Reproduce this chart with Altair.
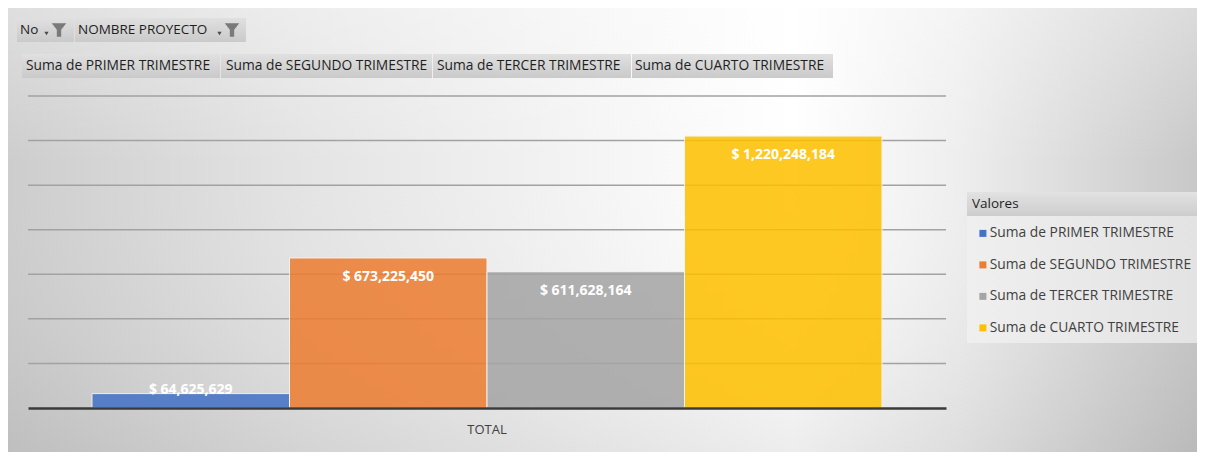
import altair as alt
import pandas as pd

# ---------------- data ----------------
categories = ["TOTAL"]
series = [
    "Suma de PRIMER TRIMESTRE",
    "Suma de SEGUNDO TRIMESTRE",
    "Suma de TERCER TRIMESTRE",
    "Suma de CUARTO TRIMESTRE",
]
values = [64625629, 673225450, 611628164, 1220248184]
colors = ["#4472C4", "#ED7D31", "#A5A5A5", "#FFC000"]
grid_values = [200000000, 400000000, 600000000, 800000000,
               1000000000, 1200000000, 1400000000]
filter_buttons = ["No", "NOMBRE PROYECTO"]
value_buttons = series
legend_title = "Valores"

df = pd.DataFrame({"cat": categories * len(series), "series": series, "value": values})
grid_df = pd.DataFrame({"g": grid_values})
one = pd.DataFrame({"k": [0]})

FONT = "Open Sans"
W, H = 918, 312
OX, OY = 28, 96  # page position of plot origin
RIGHT = 1197     # page right edge of the drawing

def px(x):
    return alt.value(x - OX)

def py(y):
    return alt.value(y - OY)

# ---------------- scales / encodings ----------------
x_enc = alt.X(
    "cat:N",
    scale=alt.Scale(paddingInner=0, paddingOuter=0.081),
    axis=alt.Axis(title=None, labelAngle=0, ticks=False, domainColor="#3a3a3a",
                  domainWidth=2.5, labelFont=FONT, labelFontSize=13,
                  labelColor="#404040", labelPadding=15, zindex=1),
)
xo_enc = alt.XOffset("series:N", sort=series,
                     scale=alt.Scale(domain=series, paddingInner=0, paddingOuter=0))
y_scale = alt.Scale(domain=[0, 1400000000], nice=False, zero=True)
y_enc = alt.Y("value:Q", scale=y_scale, axis=None)

# ---------------- background ----------------
bg_grad = alt.LinearGradient(
    gradient="linear", x1=0, y1=0, x2=1, y2=0,
    stops=[
        alt.GradientStop(color="#cdcdcd", offset=0),
        alt.GradientStop(color="#e4e4e4", offset=0.25),
        alt.GradientStop(color="#f5f5f5", offset=0.5),
        alt.GradientStop(color="#ffffff", offset=0.66),
        alt.GradientStop(color="#eeeeee", offset=0.8),
        alt.GradientStop(color="#c8c8c8", offset=1),
    ],
)
bg_overlay_grad = alt.LinearGradient(
    gradient="linear", x1=0, y1=0, x2=0, y2=1,
    stops=[
        alt.GradientStop(color="rgba(255,255,255,0.35)", offset=0),
        alt.GradientStop(color="rgba(255,255,255,0)", offset=0.35),
        alt.GradientStop(color="rgba(0,0,0,0.07)", offset=1),
    ],
)
bg = alt.Chart(one).mark_rect(fill=bg_grad).encode(
    x=px(8), x2=px(RIGHT), y=py(8), y2=py(452))
bg2 = alt.Chart(one).mark_rect(fill=bg_overlay_grad).encode(
    x=px(8), x2=px(RIGHT), y=py(8), y2=py(452))

# ---------------- grid ----------------
rules = alt.Chart(grid_df).mark_rule(color="#a2a2a2", strokeWidth=1.5).encode(
    y=alt.Y("g:Q", scale=y_scale, axis=None))

# ---------------- bars ----------------
bars = alt.Chart(df).mark_bar(opacity=0.86, stroke="#f4f4f4", strokeWidth=1).encode(
    x=x_enc, xOffset=xo_enc, y=y_enc,
    color=alt.Color(
        "series:N", sort=series,
        scale=alt.Scale(domain=series, range=colors),
        legend=alt.Legend(
            title=legend_title, orient="none", legendX=939, legendY=96, padding=5,
            titleFont=FONT, titleFontSize=13.5, titleFontWeight="normal",
            titleColor="#1f1f1f", titlePadding=16,
            labelFont=FONT, labelFontSize=13.8, labelColor="#404040", labelLimit=400,
            symbolType="square", symbolSize=49, symbolStrokeWidth=0,
            symbolOffset=4, labelOffset=0, rowPadding=16.5, zindex=1,
            symbolOpacity=1,
        ),
    ),
)

label_expr = "'$ ' + format(datum.value, ',')"
labels = alt.Chart(df).transform_filter(
    "datum.value >= 100000000").transform_calculate(lbl=label_expr).mark_text(
    dy=19, color="white", font=FONT, fontSize=14, fontWeight="bold", baseline="middle"
).encode(x=x_enc, xOffset=xo_enc, y=y_enc, text="lbl:N")

labels_small = alt.Chart(df).transform_filter(
    "datum.value < 100000000").transform_calculate(lbl=label_expr).mark_text(
    dy=-4, color="white", font=FONT, fontSize=14, fontWeight="bold", baseline="middle"
).encode(x=x_enc, xOffset=xo_enc, y=y_enc, text="lbl:N")

# ---------------- legend box ----------------
legend_box_grad = alt.LinearGradient(
    gradient="linear", x1=0, y1=0, x2=1, y2=0,
    stops=[alt.GradientStop(color="#efefef", offset=0),
           alt.GradientStop(color="#e3e3e3", offset=1)],
)
legend_head_grad = alt.LinearGradient(
    gradient="linear", x1=0, y1=0, x2=0, y2=1,
    stops=[alt.GradientStop(color="#e2e2e2", offset=0),
           alt.GradientStop(color="#cdcdcd", offset=1)],
)
legend_box = alt.Chart(one).mark_rect(fill=legend_box_grad).encode(
    x=px(967), x2=px(RIGHT), y=py(192), y2=py(343))
legend_head = alt.Chart(one).mark_rect(fill=legend_head_grad).encode(
    x=px(967), x2=px(RIGHT), y=py(192), y2=py(216))

# ---------------- pivot field buttons ----------------
btn_grad = alt.LinearGradient(
    gradient="linear", x1=0, y1=0, x2=0, y2=1,
    stops=[alt.GradientStop(color="#e0e0e0", offset=0),
           alt.GradientStop(color="#cacaca", offset=1)],
)
funnel = "M -1 -0.85 L 1 -0.85 L 0.3 0.05 L 0.3 1 L -0.3 1 L -0.3 0.05 Z"

layers = []

def button(x0, x1, y0, y1, label, tx, fs):
    r = alt.Chart(one).mark_rect(fill=btn_grad).encode(
        x=px(x0), x2=px(x1), y=py(y0), y2=py(y1))
    t = alt.Chart(one).mark_text(
        text=label, align="left", baseline="middle", font=FONT, fontSize=fs,
        color="#1f1f1f").encode(x=px(tx), y=py((y0 + y1) / 2))
    return [r, t]

def filter_icon(ax, fx, cy):
    a = alt.Chart(one).mark_point(shape="triangle-down", filled=True, color="#4a4a4a",
                                  size=18, opacity=1).encode(x=px(ax), y=py(cy + 4))
    f = alt.Chart(one).mark_point(shape=funnel, filled=True, color="#7a7a7a",
                                  size=210, opacity=1).encode(x=px(fx), y=py(cy))
    return [a, f]

layers += button(17, 74, 18, 42, filter_buttons[0], 20, 13.5)
layers += filter_icon(46.5, 59, 29.5)
layers += button(75, 246, 18, 42, filter_buttons[1], 78, 13.5)
layers += filter_icon(219.5, 232, 29.5)

row2 = [(22, 220, 26), (221, 432, 226), (433, 631, 437), (632, 833, 635)]
for (x0, x1, tx), lab in zip(row2, value_buttons):
    layers += button(x0, x1, 54, 78, lab, tx, 13.8)

chart = alt.layer(
    bg, bg2, rules, bars, labels, labels_small, legend_box, legend_head, *layers
).properties(
    width=W, height=H,
    autosize=alt.AutoSizeParams(type="none"),
    padding={"left": 20, "top": 88, "right": RIGHT - 8 - 20 - W, "bottom": 44},
    background="white",
).configure_view(stroke=None)

chart.save("out.html", embed_options={"renderer": "svg", "actions": False})
